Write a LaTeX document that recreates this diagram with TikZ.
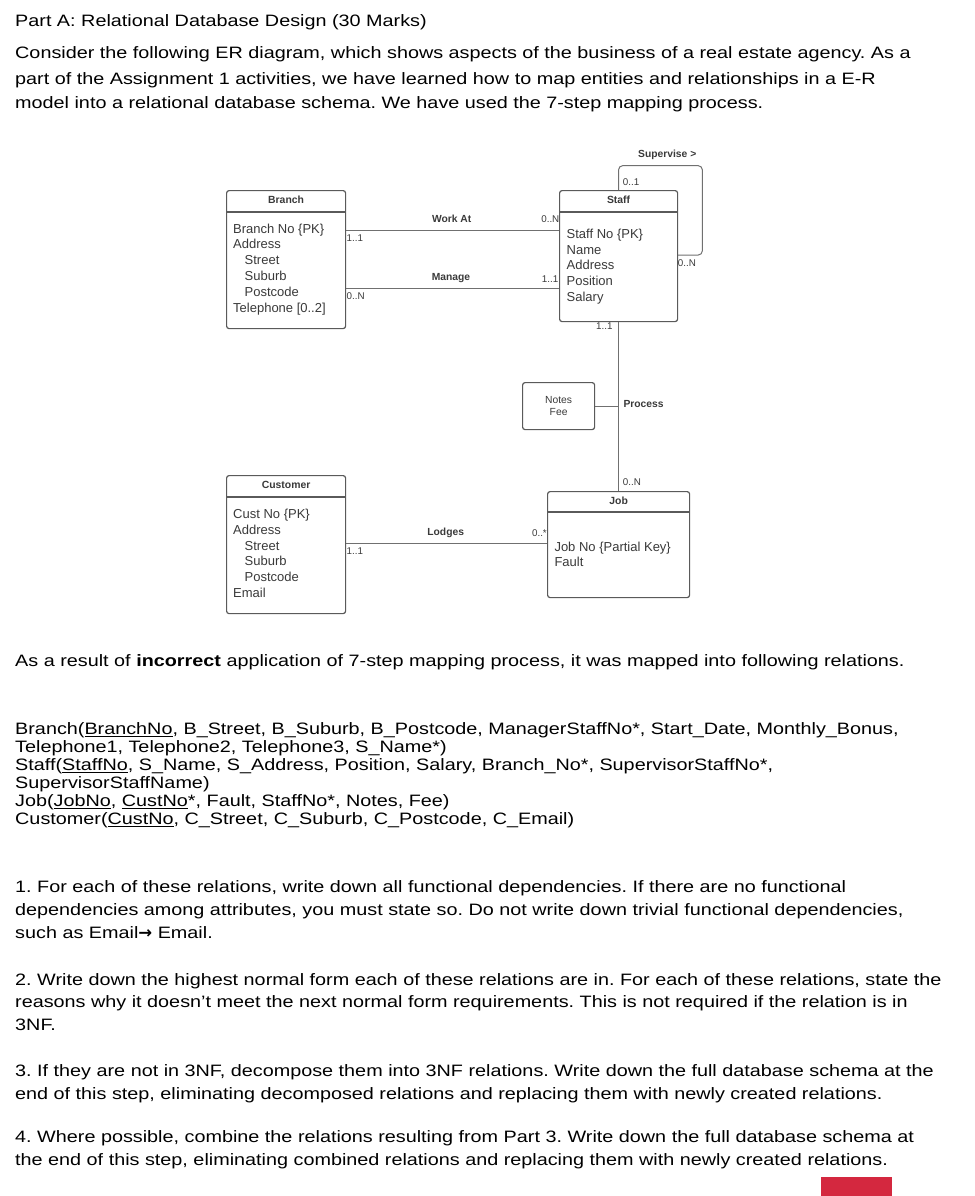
\documentclass[tikz,border=0pt]{standalone}
\usepackage{fontspec}
\setmainfont{Liberation Sans}
\newfontfamily\bodyfont{Liberation Sans}[FakeStretch=1.2]
\newfontfamily\arrowfont{DejaVu Sans}
\definecolor{dtext}{HTML}{3A3A3A}
\definecolor{boxc}{HTML}{5A5A5A}
\definecolor{linec}{HTML}{707070}
\definecolor{redbar}{HTML}{D4283F}
\newcommand\myul[1]{\underline{#1}}
\frenchspacing
\begin{document}
\begin{tikzpicture}[x=1pt,y=-1pt,
  bt/.style={anchor=base west, inner sep=0pt, font=\bodyfont\fontsize{16.5}{20}\selectfont},
  ent/.style={draw=boxc, line width=1.2pt, rounded corners=2.5pt, anchor=north west, inner sep=0pt, fill=white},
  hdr/.style={draw=boxc, line width=1.2pt},
  etitle/.style={inner sep=0pt, text=dtext, font=\fontsize{10.4}{12}\selectfont\bfseries},
  attr/.style={anchor=base west, inner sep=0pt, text=dtext, font=\fontsize{13}{15}\selectfont},
  rel/.style={inner sep=0pt, text=dtext, font=\fontsize{10.3}{12}\selectfont\bfseries},
  mult/.style={inner sep=0pt, text=dtext, font=\fontsize{9.8}{11}\selectfont},
  conn/.style={draw=linec, line width=1pt}]
\useasboundingbox (0,0) rectangle (974,1196);

% ---------- header text ----------
\node[bt] (title) at (15,27) {Part A: Relational Database Design (30 Marks)};
\node[bt] (p1) at (15,59) {Consider the following ER diagram, which shows aspects of the business of a real estate agency. As a};
\node[bt] (p2) at (15,84.5) {part of the Assignment 1 activities, we have learned how to map entities and relationships in a E-R};
\node[bt] (p3) at (15,108.5) {model into a relational database schema. We have used the 7-step mapping process.};

% ---------- ER diagram ----------
\node[ent, minimum width=119pt, minimum height=138pt] (branch) at (226,190) {};
\draw[hdr] ([yshift=-22pt]branch.north west) -- ([yshift=-22pt]branch.north east);
\node[etitle] (branchT) at ([yshift=-10pt]branch.north) {Branch};
\foreach \t [count=\i] in {Branch No \{PK\}, Address, \hspace{11.5pt}Street, \hspace{11.5pt}Suburb, \hspace{11.5pt}Postcode, Telephone [0..2]}
  \node[attr] (branchA\i) at (233,{233+(\i-1)*15.8}) {\t};

\node[ent, minimum width=118pt, minimum height=131pt] (staff) at (559,190) {};
\draw[hdr] ([yshift=-22pt]staff.north west) -- ([yshift=-22pt]staff.north east);
\node[etitle] (staffT) at ([yshift=-10pt]staff.north) {Staff};
\foreach \t [count=\i] in {Staff No \{PK\}, Name, Address, Position, Salary}
  \node[attr] (staffA\i) at (566.5,{238.5+(\i-1)*15.7}) {\t};

\node[ent, minimum width=119pt, minimum height=138pt] (customer) at (226,475) {};
\draw[hdr] ([yshift=-22pt]customer.north west) -- ([yshift=-22pt]customer.north east);
\node[etitle] (customerT) at ([yshift=-10pt]customer.north) {Customer};
\foreach \t [count=\i] in {Cust No \{PK\}, Address, \hspace{11.5pt}Street, \hspace{11.5pt}Suburb, \hspace{11.5pt}Postcode, Email}
  \node[attr] (customerA\i) at (233,{518.5+(\i-1)*15.8}) {\t};

\node[ent, minimum width=142pt, minimum height=106pt] (job) at (547,491) {};
\draw[hdr] ([yshift=-21pt]job.north west) -- ([yshift=-21pt]job.north east);
\node[etitle] (jobT) at ([yshift=-9.5pt]job.north) {Job};
\node[attr] (jobA1) at (554.3,551) {Job No \{Partial Key\}};
\node[attr] (jobA2) at (554.3,566.7) {Fault};

\node[ent, minimum width=72pt, minimum height=47pt] (notes) at (522,382) {};
\node[inner sep=0pt, text=dtext, align=center, font=\fontsize{10.3}{12.7}\selectfont] (notesT) at (notes.center) {Notes\\Fee};

% connectors
\coordinate (wa) at ([yshift=-40pt]branch.north east);
\draw[conn] (wa) -- (wa -| staff.west);
\coordinate (mg) at ([yshift=-98.3pt]branch.north east);
\draw[conn] (mg) -- (mg -| staff.west);
\coordinate (lg) at ([yshift=-68.3pt]customer.north east);
\draw[conn] (lg) -- (lg -| job.west);
\draw[conn] (staff.south) -- (job.north);
\draw[conn] (notes.east) -- (notes.east -| staff.south);
\draw[conn, rounded corners=4pt] (staff.north) -- ++(0,-24.3) -- ++(83.7,0) -- ++(0,89.3) -- ([yshift=-65pt]staff.north east);

% relationship labels
\node[rel] (waL) at (451.7,219.3) {Work At};
\node[rel] (mgL) at (451,278.3) {Manage};
\node[rel] (lgL) at (445.7,533.3) {Lodges};
\node[rel, anchor=west] (prL) at (623.3,404.3) {Process};
\node[rel, anchor=west] (svL) at (638,155) {Supervise >};

% multiplicities
\node[mult, anchor=west] (m1) at (346.5,237.7) {1..1};
\node[mult, anchor=east] (m2) at (559.5,219.3) {0..N};
\node[mult, anchor=west] (m3) at (346.5,295.7) {0..N};
\node[mult, anchor=east] (m4) at (558.5,279) {1..1};
\node[mult, anchor=west] (m5) at (622.7,181.7) {0..1};
\node[mult, anchor=west] (m6) at (677.7,262.7) {0..N};
\node[mult, anchor=east] (m7) at (612.7,326.5) {1..1};
\node[mult, anchor=west] (m8) at (622.7,482.3) {0..N};
\node[mult, anchor=west] (m9) at (346.5,551) {1..1};
\node[mult, anchor=east] (m10) at (547,533.3) {0..*};

% ---------- relations ----------
\node[bt] (res) at (15,666) {As a result of \textbf{incorrect} application of 7-step mapping process, it was mapped into following relations.};
\node[bt] (r1) at (15,734.5) {Branch(\myul{BranchNo}, B\_Street, B\_Suburb, B\_Postcode, ManagerStaffNo*, Start\_Date, Monthly\_Bonus,};
\node[bt] (r2) at (15,752.5) {Telephone1, Telephone2, Telephone3, S\_Name*)};
\node[bt] (r3) at (15,770.5) {Staff(\myul{StaffNo}, S\_Name, S\_Address, Position, Salary, Branch\_No*, SupervisorStaffNo*,};
\node[bt] (r4) at (15,788.5) {SupervisorStaffName)};
\node[bt] (r5) at (15,806.5) {Job(\myul{JobNo}, \myul{CustNo}*, Fault, StaffNo*, Notes, Fee)};
\node[bt] (r6) at (15,824.5) {Customer(\myul{CustNo}, C\_Street, C\_Suburb, C\_Postcode, C\_Email)};

% ---------- questions ----------
\node[bt] (q1a) at (15,892.5) {1. For each of these relations, write down all functional dependencies. If there are no functional};
\node[bt] (q1b) at (15,915.5) {dependencies among attributes, you must state so. Do not write down trivial functional dependencies,};
\node[bt] (q1c) at (15,938) {such as Email{\arrowfont\bfseries →} Email.};
\node[bt] (q2a) at (15,985) {2. Write down the highest normal form each of these relations are in. For each of these relations, state the};
\node[bt] (q2b) at (15,1007.5) {reasons why it doesn’t meet the next normal form requirements. This is not required if the relation is in};
\node[bt] (q2c) at (15,1030.5) {3NF.};
\node[bt] (q3a) at (15,1076.5) {3. If they are not in 3NF, decompose them into 3NF relations. Write down the full database schema at the};
\node[bt] (q3b) at (15,1099) {end of this step, eliminating decomposed relations and replacing them with newly created relations.};
\node[bt] (q4a) at (15,1142.5) {4. Where possible, combine the relations resulting from Part 3. Write down the full database schema at};
\node[bt] (q4b) at (15,1165.5) {the end of this step, eliminating combined relations and replacing them with newly created relations.};

\fill[redbar] (821,1177) rectangle (892,1196);
\end{tikzpicture}
\end{document}
